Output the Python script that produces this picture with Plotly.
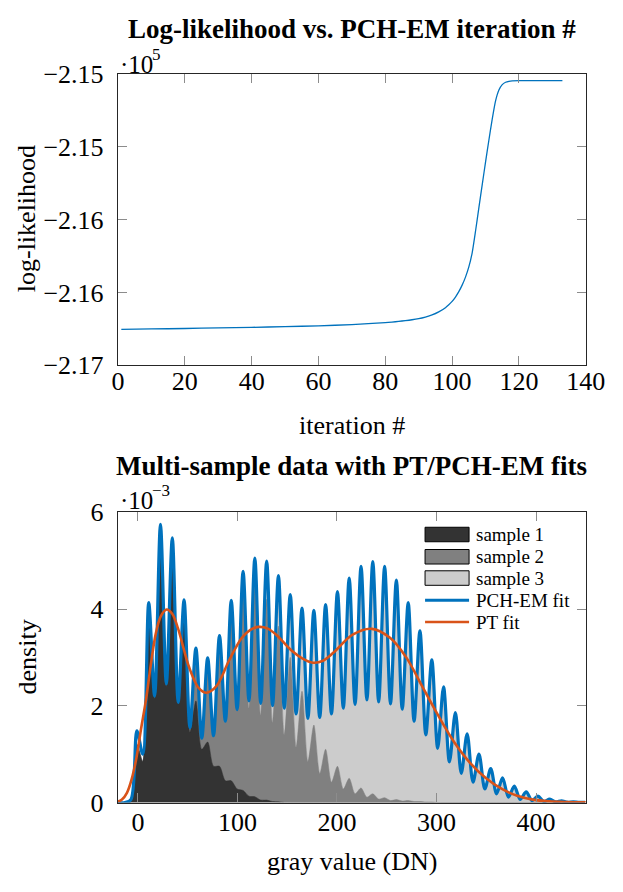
import plotly.graph_objects as go

# ---------------- data: top chart ----------------
ITER = [1, 10, 20, 30, 40, 50, 60, 70, 80, 82, 84, 86, 88, 90, 92, 94, 96, 98, 99, 100,
        101, 102, 103, 104, 105, 106, 107, 108, 109, 110, 111, 112, 113, 114, 115, 116,
        117, 118, 120, 126, 133]
LOGLIK = [-216754, -216751, -216748, -216744, -216740, -216735, -216730, -216721,
          -216708, -216704, -216699, -216694, -216688, -216680, -216669, -216655,
          -216634, -216605, -216585, -216562, -216532, -216495, -216450, -216395,
          -216325, -216228, -216080, -215920, -215762, -215605, -215455, -215310,
          -215185, -215110, -215073, -215057, -215050, -215047, -215046, -215046,
          -215046]
TOP_YTICKS = [-217000, -216500, -216000, -215500, -215000]
TOP_YTEXT = ["\u22122.17", "\u22122.16", "\u22122.16", "\u22122.15", "\u22122.15"]

# ---------------- data: bottom chart (density in units of 1e-3) ----------------
GRAY = [-20, -12.9, -7.0, -1.0, 4.9, 10.9, 16.8, 22.7, 28.6, 34.6, 40.5, 46.4, 52.3,
        58.3, 64.2, 70.1, 76.0, 82.0, 87.9, 93.8, 99.7, 105.7, 111.6, 117.5, 123.4,
        129.4, 135.3, 141.2, 147.1, 153.1, 159.0, 164.9, 170.8, 176.8, 182.7, 188.6,
        194.5, 200.5, 206.4, 212.3, 218.2, 224.2, 230.1, 236.0, 241.9, 247.9, 253.8,
        259.7, 265.6, 271.6, 277.5, 283.4, 289.3, 295.3, 301.2, 307.1, 313.0, 319.0,
        324.9, 330.8, 336.7, 342.7, 348.6, 354.5, 360.4, 366.4, 372.3, 378.2, 384.1,
        390.1, 396.0, 401.9, 407.8, 413.8, 419.7, 425.6, 431.5, 437.5, 443.4, 449.3]

SAMPLE1 = [0, 0, 0.02, 1.2, 0.85, 4.0, 2.15, 5.7, 2.4, 5.45, 2.05, 3.9, 1.45, 2.1, 1.1,
           1.25, 0.75, 0.75, 0.45, 0.45, 0.28, 0.25, 0.13, 0.12, 0.05, 0.05, 0.02,
           0.015] + [0] * 52

SAMPLE2 = [0] * 11 + [0.2, 0.1, 1.09, 0.23, 1.74, 0.63, 2.7, 1.23, 3.68, 1.61, 4.25,
                      1.82, 4.38, 1.75, 4.15, 1.63, 3.63, 1.4, 3.0, 1.15, 2.3, 0.85,
                      1.6, 0.6, 1.1, 0.42, 0.75, 0.28, 0.5, 0.18, 0.3, 0.11, 0.18,
                      0.07, 0.1, 0.04, 0.06, 0.03, 0.04, 0.02, 0.02, 0.01, 0.01] + [0] * 26

SAMPLE3 = [0] * 19 + [0.05, 0.03, 0.28, 0.15, 0.55, 0.25, 0.79, 0.35, 1.04, 0.55, 1.3,
                      0.68, 1.72, 0.89, 2.37, 1.16, 2.99, 1.41, 3.61, 1.67, 4.14, 1.85,
                      4.58, 2.01, 4.8, 2.01, 4.78, 2.0, 4.54, 1.9, 4.09, 1.66, 3.53,
                      1.39, 2.94, 1.12, 2.39, 0.84, 1.86, 0.6, 1.42, 0.42, 1.0, 0.28,
                      0.7, 0.18, 0.51, 0.11, 0.34, 0.065, 0.22, 0.04, 0.13, 0.022,
                      0.07, 0.012, 0.035, 0.006, 0.015, 0.003, 0.005]

PCHEM = [0, 0, 0.06, 1.48, 1.0, 4.13, 2.2, 5.75, 2.45, 5.47, 2.07, 4.19, 1.55, 3.19,
         1.33, 2.99, 1.38, 3.45, 1.68, 4.18, 1.92, 4.78, 2.1, 5.05, 2.05, 4.99, 2.0,
         4.69, 1.95, 4.3, 1.83, 4.02, 1.74, 3.97, 1.76, 4.09, 1.83, 4.36, 1.95, 4.64,
         2.03, 4.88, 2.12, 4.98, 2.08, 4.88, 2.04, 4.6, 1.93, 4.13, 1.68, 3.55, 1.4,
         2.95, 1.12, 2.39, 0.84, 1.86, 0.6, 1.42, 0.42, 1.0, 0.28, 0.7, 0.18, 0.51,
         0.11, 0.34, 0.065, 0.22, 0.04, 0.13, 0.022, 0.07, 0.012, 0.035, 0.006, 0.015,
         0.003, 0.005]

PT_DN = [-20, -16, -11, -6, -1.4, 3, 8.2, 13, 17.8, 23, 29, 34.5, 40.3, 46, 51.4, 61,
         69, 78.7, 91.5, 104.3, 113, 121.3, 130, 138.9, 155, 165, 175.8, 186, 196.6,
         215.8, 235, 253.6, 269.6, 285.7, 301.7, 317.7, 333.7, 349.8, 365.7, 381, 397,
         413, 430, 450]
PT_FIT = [0.02, 0.06, 0.2, 0.5, 0.93, 1.5, 2.13, 2.85, 3.47, 3.85, 3.99, 3.9, 3.6, 3.18,
          2.8, 2.37, 2.27, 2.4, 2.93, 3.4, 3.57, 3.63, 3.6, 3.47, 3.13, 2.98, 2.89, 2.93,
          3.1, 3.47, 3.59, 3.4, 3.0, 2.4, 1.8, 1.25, 0.82, 0.5, 0.28, 0.14, 0.06, 0.025,
          0.01, 0.003]

LEGEND_NAMES = ["sample 1", "sample 2", "sample 3", "PCH-EM fit", "PT fit"]
HIST_COLORS = ["#333333", "#808080", "#cccccc"]
BLUE = "#0072bd"
ORANGE = "#d95319"

# ---------------- layout helpers ----------------
W, H = 623, 892
def px(x):
    return x / W
def py(y):
    return 1 - y / H

FONT = "Liberation Serif"
L, R = 116, 605

fig = go.Figure()

# top chart
fig.add_trace(go.Scatter(x=ITER, y=LOGLIK, mode="lines", xaxis="x", yaxis="y",
                         line=dict(color=BLUE, width=1.3, shape="spline", smoothing=0.5),
                         showlegend=False, hoverinfo="skip"))

# bottom chart: stacked histogram areas
c1 = [a for a in SAMPLE1]
c2 = [a + b for a, b in zip(SAMPLE1, SAMPLE2)]
c3 = [a + b + c for a, b, c in zip(SAMPLE1, SAMPLE2, SAMPLE3)]
for vals, col in [(c3, HIST_COLORS[2]), (c2, HIST_COLORS[1]), (c1, HIST_COLORS[0])]:
    fig.add_trace(go.Scatter(x=GRAY, y=[v * 1e-3 for v in vals], mode="lines",
                             xaxis="x2", yaxis="y2", fill="tozeroy", fillcolor=col,
                             line=dict(color=col, width=0.5, shape="spline", smoothing=0.8),
                             showlegend=False, hoverinfo="skip"))

fig.add_trace(go.Scatter(x=GRAY, y=[v * 1e-3 for v in PCHEM], mode="lines",
                         xaxis="x2", yaxis="y2",
                         line=dict(color=BLUE, width=3.2, shape="spline", smoothing=0.9),
                         showlegend=False, hoverinfo="skip"))
fig.add_trace(go.Scatter(x=PT_DN, y=[v * 1e-3 for v in PT_FIT], mode="lines",
                         xaxis="x2", yaxis="y2",
                         line=dict(color=ORANGE, width=2.6, shape="spline", smoothing=1.0),
                         showlegend=False, hoverinfo="skip"))

axis_common = dict(showgrid=False, zeroline=False, ticks="inside", ticklen=9,
                   tickwidth=1.3, tickcolor="#8c8c8c", showline=True,
                   linecolor="#262626", linewidth=1.3, mirror="ticks",
                   ticklabeloverflow="allow",
                   tickfont=dict(family=FONT, size=26, color="black"))

fig.update_layout(
    width=W, height=H, margin=dict(l=0, r=0, t=0, b=0),
    paper_bgcolor="white", plot_bgcolor="white", showlegend=False,
    xaxis=dict(domain=[px(L), px(R)], range=[0, 140], tickvals=[0, 20, 40, 60, 80, 100, 120, 140],
               anchor="y", ticklabelstandoff=-8, **axis_common),
    yaxis=dict(domain=[py(363), py(62)], range=[-217000, -215000], tickvals=TOP_YTICKS,
               ticktext=TOP_YTEXT, anchor="x", ticklabelstandoff=8, **axis_common),
    xaxis2=dict(domain=[px(L), px(R)], range=[-20, 450], tickvals=[0, 100, 200, 300, 400],
                anchor="y2", ticklabelstandoff=-4, **axis_common),
    yaxis2=dict(domain=[py(815), py(515)], range=[0, 0.006],
                tickvals=[0, 0.002, 0.004, 0.006], ticktext=["0", "2", "4", "6"],
                anchor="x2", ticklabelstandoff=8, **axis_common),
)

ann = []
def text(x, y, s, size=26, bold=False, xanchor="center", angle=0):
    ann.append(dict(x=px(x), y=py(y), xref="paper", yref="paper", showarrow=False,
                    text=("<b>%s</b>" % s) if bold else s, xanchor=xanchor, yanchor="middle",
                    textangle=angle, font=dict(family=FONT, size=size, color="black")))

mid = (L + R) / 2
text(mid, 16, "Log-likelihood vs. PCH-EM iteration #", size=27, bold=True)
text(116, 52, "\u00b710", size=25, xanchor="left")
text(150, 42, "5", size=17, xanchor="left")
text(mid, 425, "iteration #")
text(20, 212, "log-likelihood", angle=-90)
text(mid, 467, "Multi-sample data with PT/PCH-EM fits", size=27, bold=True)
text(116, 503, "\u00b710", size=25, xanchor="left")
text(150, 493, "\u22123", size=17, xanchor="left")
text(mid, 876, "gray value (DN)")
text(21, 665, "density", angle=-90)

# legend (drawn manually, MATLAB style)
shapes = []
rows = [538, 561, 583, 606, 628.5]
for i, col in enumerate(HIST_COLORS):
    shapes.append(dict(type="rect", xref="paper", yref="paper",
                       x0=px(437), x1=px(483), y0=py(rows[i] - 7.5), y1=py(rows[i] + 7.5),
                       fillcolor=col, line=dict(color="black", width=1)))
shapes.append(dict(type="line", xref="paper", yref="paper", x0=px(437), x1=px(483),
                   y0=py(rows[3]), y1=py(rows[3]), line=dict(color=BLUE, width=3)))
shapes.append(dict(type="line", xref="paper", yref="paper", x0=px(437), x1=px(483),
                   y0=py(rows[4]), y1=py(rows[4]), line=dict(color=ORANGE, width=2.6)))
for i, name in enumerate(LEGEND_NAMES):
    text(488, rows[i], name, size=19, xanchor="left")

fig.update_layout(annotations=ann, shapes=shapes)
fig.write_html("out.html", config={"displayModeBar": False},
               post_script="document.body.style.margin='0px';")
